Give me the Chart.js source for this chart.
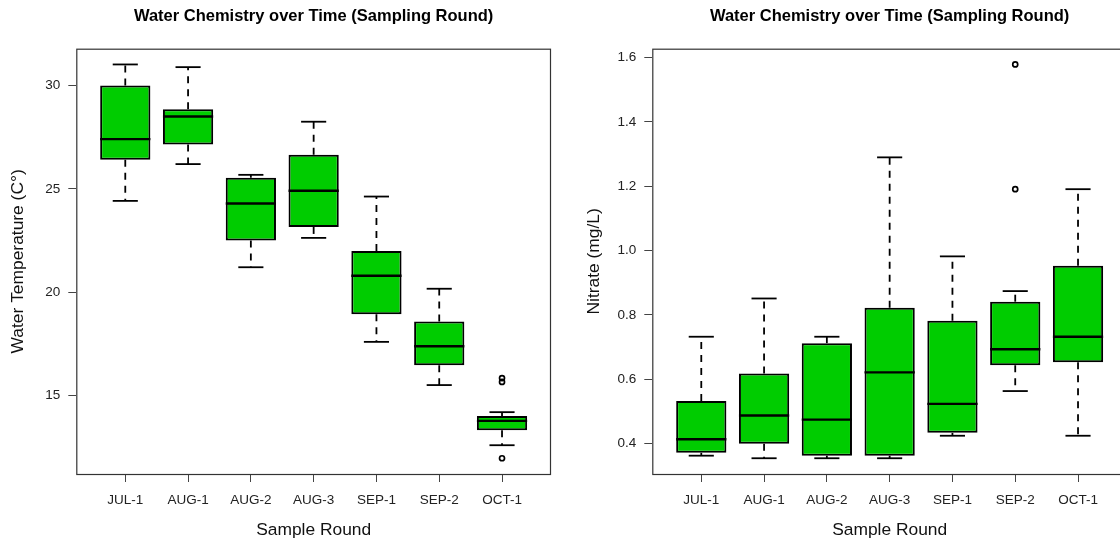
<!DOCTYPE html>
<html>
<head>
<meta charset="utf-8">
<script src="https://cdn.jsdelivr.net/npm/chart.js@4.4.1/dist/chart.umd.min.js"></script>
<style>
  html, body { margin: 0; padding: 0; background: #fff; width: 1120px; height: 542px; overflow: hidden; }
  .panel { position: absolute; top: 0; width: 576px; height: 542px; }
  #p1 { left: 0; }
  #p2 { left: 576px; }
</style>
</head>
<body>
<div class="panel" id="p1"><canvas id="c1" width="576" height="542"></canvas></div>
<div class="panel" id="p2"><canvas id="c2" width="576" height="542"></canvas></div>
<script>
// ---------- data ----------
const categories = ['JUL-1', 'AUG-1', 'AUG-2', 'AUG-3', 'SEP-1', 'SEP-2', 'OCT-1'];

const tempLow    = [24.42, 26.20, 21.21, 22.63, 17.60, 15.51, 12.60];
const tempQ1     = [26.41, 27.15, 22.50, 23.16, 18.93, 16.47, 13.32];
const tempMedian = [27.41, 28.50, 24.29, 24.91, 20.80, 17.39, 13.78];
const tempQ3     = [30.00, 28.85, 25.54, 26.65, 22.00, 18.59, 14.01];
const tempHigh   = [31.02, 30.89, 25.68, 28.25, 24.63, 20.17, 14.20];
const tempOutlierCat = ['OCT-1', 'OCT-1', 'OCT-1'];
const tempOutlierVal = [15.85, 15.66, 11.97];
const tempTicks = [15, 20, 25, 30];

const nitLow    = [0.362, 0.354, 0.354, 0.354, 0.424, 0.563, 0.424];
const nitQ1     = [0.371, 0.399, 0.362, 0.362, 0.433, 0.643, 0.653];
const nitMedian = [0.413, 0.487, 0.474, 0.621, 0.523, 0.693, 0.732];
const nitQ3     = [0.532, 0.618, 0.712, 0.822, 0.782, 0.841, 0.953];
const nitHigh   = [0.732, 0.851, 0.732, 1.290, 0.982, 0.874, 1.191];
const nitOutlierCat = ['SEP-2', 'SEP-2'];
const nitOutlierVal = [1.579, 1.191];
const nitTicks = [0.4, 0.6, 0.8, 1.0, 1.2, 1.4, 1.6];

const chartTitle = 'Water Chemistry over Time (Sampling Round)';
const xTitle = 'Sample Round';
const tempTitle = 'Water Temperature (C\u00B0)';
const nitTitle = 'Nitrate (mg/L)';

// ---------- drawing ----------
const FONT = "'Liberation Sans', Arial, Helvetica, sans-serif";
const GREEN = '#00CC00';

function boxPlugin(low, q1, med, q3, high) {
  return {
    id: 'boxparts',
    beforeDatasetsDraw(chart) {
      const {ctx, scales: {x, y}} = chart;
      ctx.save();
      ctx.strokeStyle = '#000';
      ctx.lineWidth = 1.8;
      ctx.setLineDash([7, 6]);
      for (let i = 0; i < categories.length; i++) {
        const px = x.getPixelForValue(i + 1);
        ctx.beginPath();
        ctx.moveTo(px, y.getPixelForValue(q3[i]));
        ctx.lineTo(px, y.getPixelForValue(high[i]));
        ctx.stroke();
        ctx.beginPath();
        ctx.moveTo(px, y.getPixelForValue(q1[i]));
        ctx.lineTo(px, y.getPixelForValue(low[i]));
        ctx.stroke();
      }
      ctx.restore();
    },
    afterDatasetsDraw(chart) {
      const {ctx, scales: {x, y}, chartArea} = chart;
      ctx.save();
      ctx.strokeStyle = '#000';
      for (let i = 0; i < categories.length; i++) {
        const c = i + 1;
        const sl = x.getPixelForValue(c - 0.2), sr = x.getPixelForValue(c + 0.2);
        ctx.lineWidth = 1.8;
        [low[i], high[i]].forEach(v => {
          const py = y.getPixelForValue(v);
          ctx.beginPath(); ctx.moveTo(sl, py); ctx.lineTo(sr, py); ctx.stroke();
        });
        const bl = x.getPixelForValue(c - 0.4), br = x.getPixelForValue(c + 0.4);
        const my = y.getPixelForValue(med[i]);
        ctx.lineWidth = 2.4;
        ctx.beginPath(); ctx.moveTo(bl, my); ctx.lineTo(br, my); ctx.stroke();
      }
      // plot frame
      ctx.lineWidth = 1.2;
      ctx.strokeStyle = '#333';
      ctx.strokeRect(chartArea.left + 0.5, chartArea.top + 0.5,
                     chartArea.right - chartArea.left - 1, chartArea.bottom - chartArea.top);
      ctx.restore();
    }
  };
}

function makeChart(id, low, q1, med, q3, high, outCat, outVal, yTicks, yTitle, decimals) {
  const all = low.concat(high, outVal);
  const dmin = Math.min(...all), dmax = Math.max(...all);
  const ext = (dmax - dmin) * 0.04;
  const boxData = categories.map((c, i) => ({x: i + 1, y: [q1[i], q3[i]]}));
  const outData = outCat.map((c, k) => ({x: categories.indexOf(c) + 1, y: outVal[k]}));

  return new Chart(document.getElementById(id), {
    type: 'bar',
    data: {
      datasets: [
        {
          type: 'bar',
          data: boxData,
          backgroundColor: GREEN,
          borderColor: '#000',
          borderWidth: 2,
          borderSkipped: false,
          categoryPercentage: 1.0,
          barPercentage: 0.8,
          order: 2
        },
        {
          type: 'scatter',
          data: outData,
          pointStyle: 'circle',
          pointRadius: 2.5,
          pointBorderWidth: 1.7,
          pointBorderColor: '#000',
          pointBackgroundColor: 'rgba(0,0,0,0)',
          order: 1
        }
      ]
    },
    options: {
      responsive: false,
      animation: false,
      devicePixelRatio: window.devicePixelRatio || 1,
      layout: { padding: { left: 0, right: 25, top: 0, bottom: 0 } },
      plugins: {
        legend: { display: false },
        tooltip: { enabled: false },
        title: {
          display: true,
          text: chartTitle,
          fullSize: false,
          color: '#000',
          font: { family: FONT, size: 16.5, weight: 'bold' },
          padding: { top: 6.5, bottom: 22.4 }
        }
      },
      scales: {
        x: {
          type: 'linear',
          position: 'bottom',
          offset: false,
          min: 0.22,
          max: 7.78,
          afterBuildTicks(scale) { scale.ticks = categories.map((c, i) => ({value: i + 1})); },
          afterFit(scale) { scale.height = 68; },
          border: { display: false },
          grid: { offset: false, drawOnChartArea: false, drawTicks: true, tickLength: 8, color: '#444', lineWidth: 1 },
          ticks: {
            padding: 10,
            color: '#222',
            maxRotation: 0,
            autoSkip: false,
            font: { family: FONT, size: 13.5 },
            callback: (v) => categories[Math.round(v) - 1]
          },
          title: {
            display: true,
            text: xTitle,
            color: '#111',
            font: { family: FONT, size: 17.4 },
            padding: { top: 0, bottom: 1.3 }
          }
        },
        y: {
          type: 'linear',
          position: 'left',
          min: dmin - ext,
          max: dmax + ext,
          afterBuildTicks(scale) { scale.ticks = yTicks.map(v => ({value: v})); },
          afterFit(scale) { scale.width = 76.3; },
          border: { display: false },
          grid: { drawOnChartArea: false, drawTicks: true, tickLength: 8, color: '#444', lineWidth: 1 },
          ticks: {
            padding: 8,
            color: '#222',
            autoSkip: false,
            font: { family: FONT, size: 13.5 },
            callback: (v) => Number(v).toFixed(decimals)
          },
          title: {
            display: true,
            text: yTitle,
            color: '#111',
            font: { family: FONT, size: 17.4 },
            padding: { top: 7.9, bottom: 0 }
          }
        }
      }
    },
    plugins: [boxPlugin(low, q1, med, q3, high)]
  });
}

makeChart('c1', tempLow, tempQ1, tempMedian, tempQ3, tempHigh, tempOutlierCat, tempOutlierVal, tempTicks, tempTitle, 0);
makeChart('c2', nitLow, nitQ1, nitMedian, nitQ3, nitHigh, nitOutlierCat, nitOutlierVal, nitTicks, nitTitle, 1);
</script>
</body>
</html>
